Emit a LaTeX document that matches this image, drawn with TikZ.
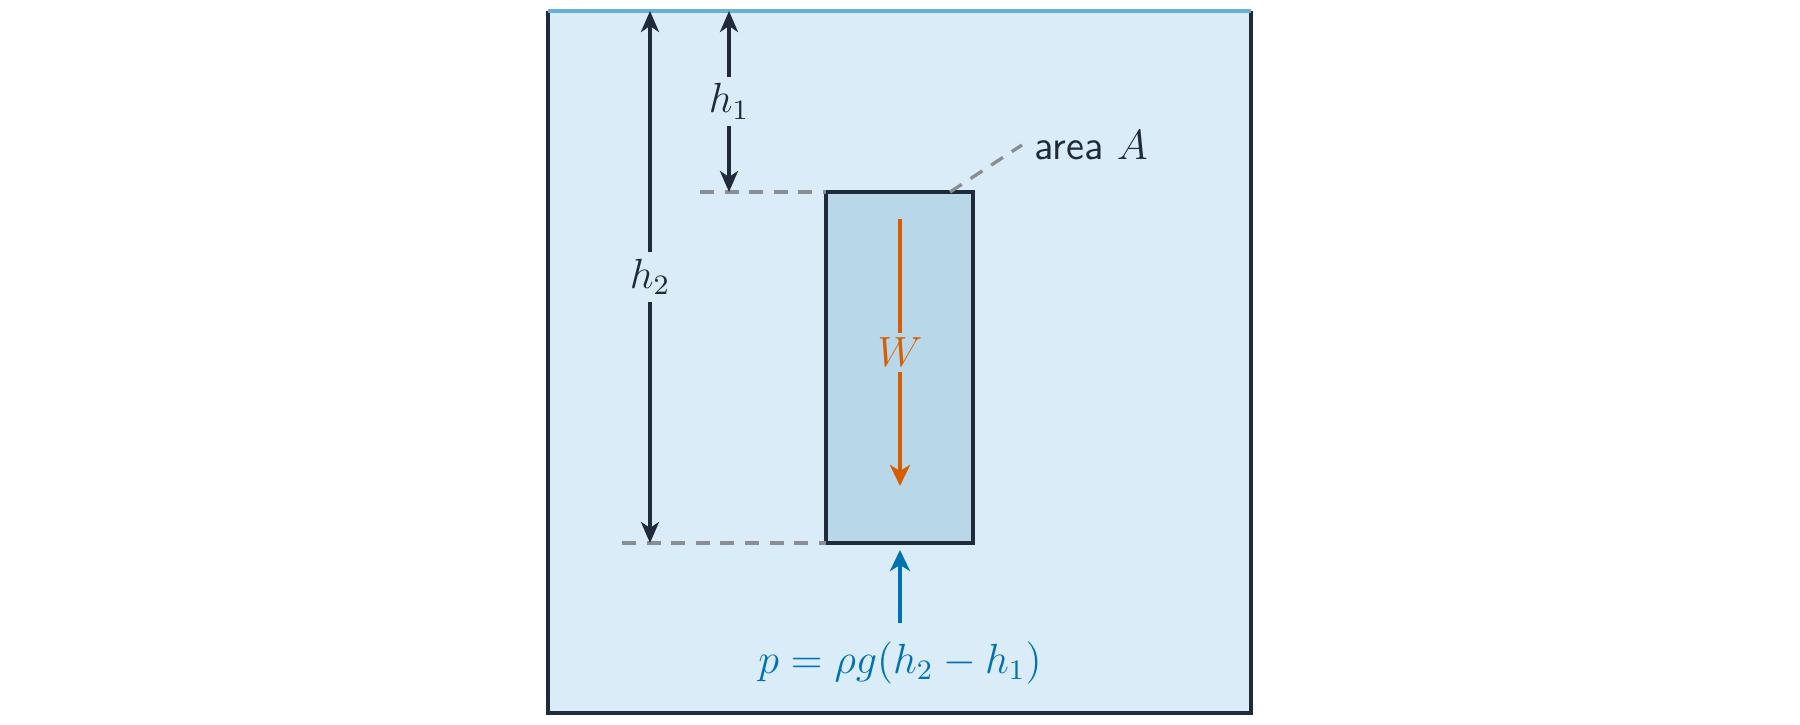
\documentclass[tikz,border=0pt]{standalone}
\usetikzlibrary{arrows.meta}
\definecolor{water}{HTML}{DBECF9}
\definecolor{block}{HTML}{B8D7E8}
\definecolor{surface}{HTML}{6BAED6}
\definecolor{wall}{HTML}{1F2A3A}
\definecolor{guide}{HTML}{8A8E92}
\definecolor{weight}{HTML}{D55E00}
\definecolor{press}{HTML}{0072B2}
\tikzset{
  dim/.style={<->,color=wall,line width=1pt},
  guideline/.style={color=guide,line width=0.95pt,dash pattern=on 4pt off 3pt},
  force/.style={->,line width=1.3pt}
}
\begin{document}
\begin{tikzpicture}[x=1cm,y=1cm,>={Stealth[length=2.1mm,width=1.8mm,inset=0.6mm]},font=\fontsize{11.7}{14}\selectfont]
\useasboundingbox (0,0) rectangle (18,7.24);
% tank and water
\fill[water] (5.48,0.11) rectangle (12.51,7.13);
\draw[color=wall,line width=1.3pt] (5.48,7.13) -- (5.48,0.11) -- (12.51,0.11) -- (12.51,7.13);
\draw[color=surface,line width=1.3pt] (5.48,7.13) coordinate (sl) -- (12.51,7.13) coordinate (sr);
% submerged block
\coordinate (bsw) at (8.26,1.81);
\coordinate (bne) at (9.73,5.32);
\draw[color=wall,line width=1.3pt,fill=block] (bsw) rectangle (bne);
% depth guides
\coordinate (g1) at (7.00,5.32);
\coordinate (g2) at (6.22,1.81);
\draw[guideline] (g1) -- (bsw |- bne);
\draw[guideline] (g2) -- (bsw);
\draw[dim] (7.29,7.13) -- (7.29,5.32) node[midway,fill=water,inner sep=2pt,text=wall] (h1) {$h_1$};
\draw[dim] (6.50,7.13) -- (6.50,1.81) node[midway,fill=water,inner sep=2pt,text=wall] (h2) {$h_2$};
% area label
\node[text=wall,anchor=west] (area) at (10.22,5.79) {\sffamily area $A$};
\draw[guideline] (9.50,5.32) -- (area.west);
% forces
\draw[force,color=weight,>={Stealth[length=2.1mm,width=2mm,inset=0.6mm]}] (9.00,5.05) -- (9.00,2.38) node[midway,fill=block,inner sep=1.5pt,text=weight] (w) {$W$};
\node[text=press] (p) at (9.00,0.61) {$p=\rho g(h_2-h_1)$};
\draw[force,color=press,>={Stealth[length=2.1mm,width=2mm,inset=0.6mm]}] (9.00,1.01) -- (9.00,1.74);
\end{tikzpicture}
\end{document}
